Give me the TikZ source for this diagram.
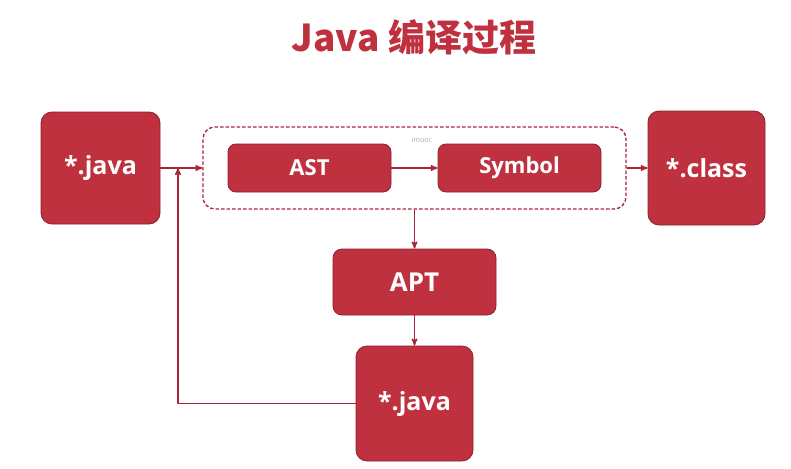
\documentclass[tikz,border=0pt]{standalone}
\usepackage{fontspec}
\setmainfont{Open Sans}
\newfontfamily\cjk{Noto Sans CJK SC}
\usetikzlibrary{arrows, positioning}

\definecolor{boxred}{HTML}{C0313F}
\definecolor{boxline}{HTML}{8E1F2C}
\definecolor{linered}{HTML}{A8253A}

\begin{document}
\begin{tikzpicture}[x=1pt,y=-1pt,->,>=stealth',line width=1.4pt,draw=linered]
		\tikzstyle{every node}=[inner sep=0pt]
		\tikzstyle{bigbox}=[draw=boxline,line width=0.8pt,fill=boxred,text=white,rounded corners=11pt,font=\bfseries\fontsize{25}{30}\selectfont]
		\tikzstyle{smallbox}=[draw=boxline,line width=0.8pt,fill=boxred,text=white,rounded corners=8pt,font=\bfseries\fontsize{22}{26}\selectfont,minimum width=163pt,minimum height=48pt]
		\tikzstyle{frame}=[draw=linered,dash pattern=on 3.5pt off 2pt,line width=1.3pt,rounded corners=12pt,minimum width=423pt,minimum height=82pt]

		\useasboundingbox (0,0) rectangle (791,468);

		\node[text=boxred,font=\cjk\bfseries\fontsize{37}{42}\selectfont] (title) at (414,37) {Java 编译过程};

		\node[bigbox,minimum width=119pt,minimum height=112pt] (J1) at (100.5,168) {*.java};
		\node[frame] (F) at (414.5,168) {};
		\node[smallbox] (A) at (309.5,168) {AST};
		\node[smallbox] (S) at (519.5,168) {Symbol};
		\node[bigbox,minimum width=117pt,minimum height=114pt] (C) at (706.5,168) {*.class};
		\node[bigbox,rounded corners=9pt,minimum width=163pt,minimum height=66pt,font=\bfseries\fontsize{26}{30}\selectfont] (P) at (414.5,282) {APT};
		\node[bigbox,minimum width=117pt,minimum height=115pt] (J2) at (414.5,403.5) {*.java};
		\node[text=black!35,font=\fontsize{7}{8}\selectfont] (wm) at (422,140) {imooc};

		\coordinate (join) at (178,168);

		\path (J1) edge (F)
			 (A) edge (S)
			 (F) edge (C)
			 (F) edge (P)
			 (P) edge (J2);
		\draw (J2.west) -| (join);

	\end{tikzpicture}
\end{document}
